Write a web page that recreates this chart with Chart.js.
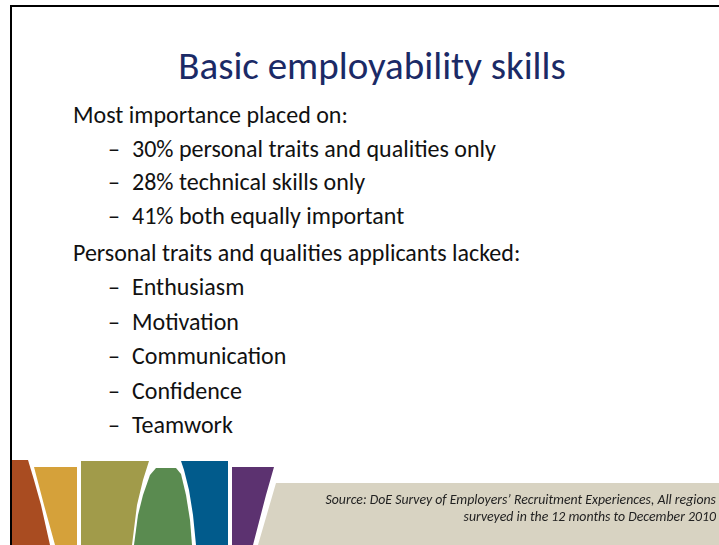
<!DOCTYPE html>
<html>
<head>
<meta charset="utf-8">
<script src="https://cdn.jsdelivr.net/npm/chart.js@4.4.1/dist/chart.umd.min.js"></script>
<style>
  body { margin: 0; background: #fff; }
  #slide { position: relative; width: 719px; height: 545px; overflow: hidden; background: #fff;
           font-family: Carlito, Calibri, Lato, sans-serif; color: #111; }
  #frame { position: absolute; left: 10px; top: 5px; width: 720px; height: 560px; z-index: 2;
           border-top: 2px solid #000; border-left: 2px solid #000; }
  #title { position: absolute; left: 0; width: 744px; top: 42px; text-align: center;
           font-size: 39px; line-height: 48px; color: #1b2a66; white-space: nowrap; }
  .line { position: absolute; font-size: 24px; line-height: 30px; white-space: nowrap; }
  #source { position: absolute; right: 3px; top: 491px; text-align: right; font-style: italic;
            font-size: 13.8px; line-height: 17px; color: #222; white-space: nowrap; }
  #decor { position: absolute; left: 0; top: 455px; }
</style>
</head>
<body>
<div id="slide">
  <div id="frame"></div>
  <div id="title"></div>
  <div id="body"></div>
  <canvas id="decor" width="719" height="90"></canvas>
  <div id="source"></div>
</div>
<script>
// --- DATA ---
const titleText = "Basic employability skills";
const importanceHeading = "Most importance placed on:";
const importancePct = [30, 28, 41];
const importanceLabels = ["personal traits and qualities only", "technical skills only", "both equally important"];
const lackedHeading = "Personal traits and qualities applicants lacked:";
const lackedTraits = ["Enthusiasm", "Motivation", "Communication", "Confidence", "Teamwork"];
const sourceLines = [
    "Source: DoE Survey of Employers\u2019 Recruitment Experiences, All regions",
    "surveyed in the 12 months to December 2010"
];

// decorative bands along the bottom (x, y in slide pixels)
const bandColors = ["#a94c21", "#d5a13a", "#a19b4a", "#5a8b50", "#015b8c", "#5c3270", "#d8d3c2"];
const bandShapes = [
    [[12, 460], [28, 460], [34, 480], [41, 505], [50, 545], [12, 545]],
    [[34, 467], [77, 467], [77, 545], [55, 545], [44, 505]],
    [[81, 461], [149, 461], [143, 480], [137, 505], [132, 545], [81, 545]],
    [[156, 468], [176, 468], [181, 474], [186, 495], [190, 520], [192, 545], [134, 545], [138, 515], [143, 495], [150, 475]],
    [[181, 461], [228, 461], [228, 545], [196, 545], [193, 515], [189, 490], [184, 470]],
    [[232, 467], [274, 467], [266, 495], [253, 545], [232, 545]],
    [[276, 483], [719, 483], [719, 545], [258, 545]]
];

// --- TEXT ---
document.getElementById('title').innerText = titleText;

const bodyEl = document.getElementById('body');
function addLine(text, x, baseline, dashed) {
    const top = baseline - 24;
    if (dashed) {
        bodyEl.innerHTML += `<div class="line" style="left:${x - 24}px; top:${top}px">\u2013</div>`;
    }
    bodyEl.innerHTML += `<div class="line" style="left:${x}px; top:${top}px">${text}</div>`;
}

let y = 124;
addLine(importanceHeading, 73, y, false);
importancePct.forEach((p, i) => {
    y += 33.7;
    addLine(`${p}% ${importanceLabels[i]}`, 132, y, true);
});
y = 262;
addLine(lackedHeading, 73, y, false);
lackedTraits.forEach((t) => {
    y += 34.4;
    addLine(t, 132, y, true);
});

document.getElementById('source').innerHTML = sourceLines.join('<br>');

// --- DECOR (Chart.js filled shapes) ---
new Chart(document.getElementById('decor'), {
    type: 'scatter',
    data: {
        datasets: bandShapes.map((pts, i) => ({
            data: pts.map(([x, y]) => ({ x, y })),
            showLine: true,
            fill: 'shape',
            backgroundColor: bandColors[i],
            borderColor: bandColors[i],
            borderWidth: 0,
            pointRadius: 0,
            tension: 0
        }))
    },
    options: {
        responsive: false,
        animation: false,
        layout: { padding: 0 },
        scales: {
            x: { type: 'linear', min: 0, max: 719, display: false },
            y: { type: 'linear', min: 455, max: 545, reverse: true, display: false }
        },
        plugins: { legend: { display: false }, tooltip: { enabled: false } }
    }
});
</script>
</body>
</html>
